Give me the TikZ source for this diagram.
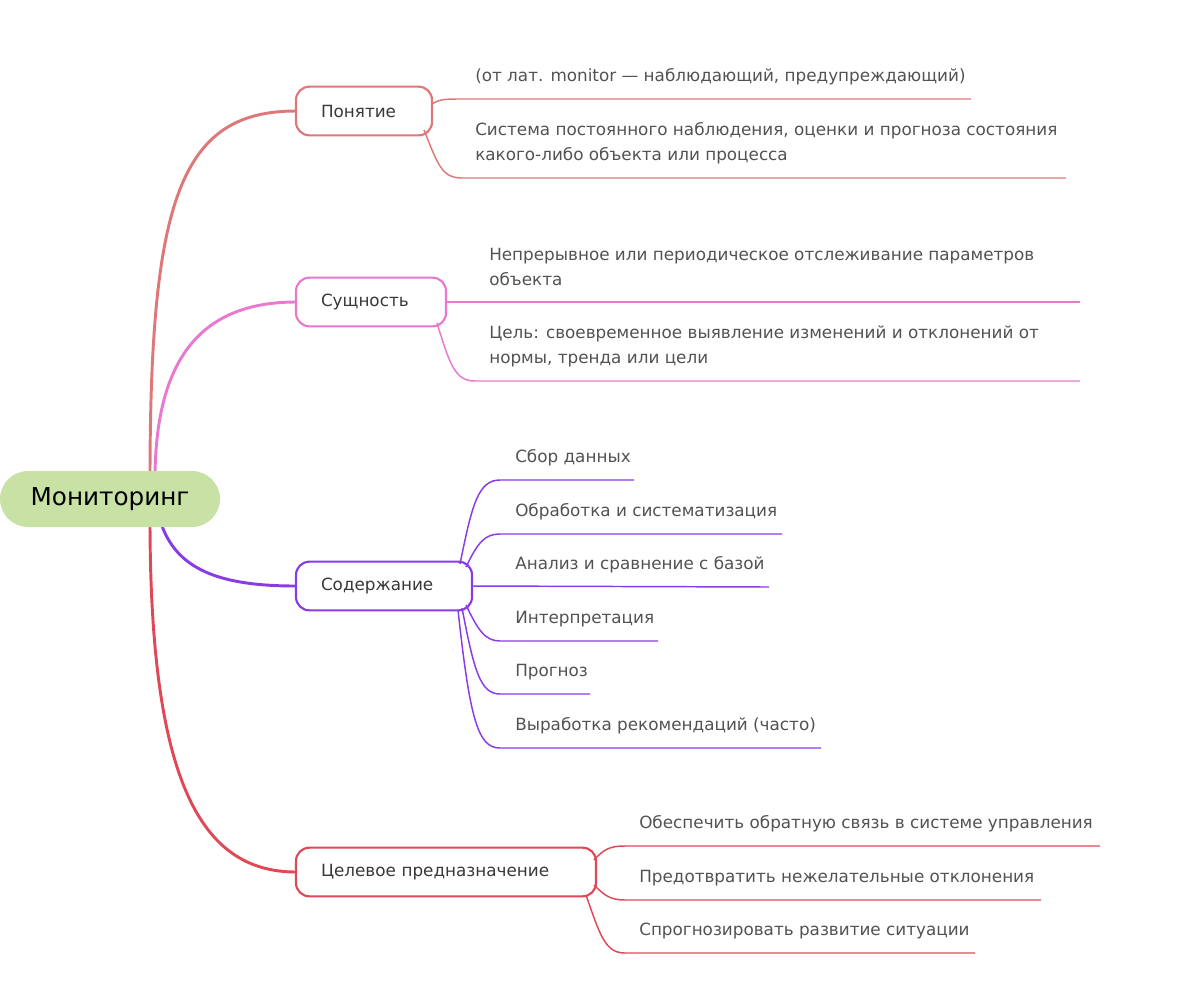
\documentclass[tikz,border=0pt]{standalone}
\usepackage{fontspec}
\setmainfont{DejaVu Sans}
\begin{document}
\begin{tikzpicture}[x=0.75pt,y=-0.75pt,
 leaf/.style={anchor=west,inner sep=0pt,text=black!68,font=\fontsize{12.6pt}{18.75pt}\selectfont,align=left},
 br/.style={draw=#1,line width=1.6pt,rounded corners=10pt,minimum height=36.5pt,inner ysep=0pt,inner xsep=18.75pt,align=left,text=black!78,font=\fontsize{12.6pt}{15pt}\selectfont,fill=white},
 bc/.style={draw=#1,line width=2.2pt},
 lc/.style={draw=#1,line width=1.1pt}]
\definecolor{cA}{RGB}{222,120,120}
\definecolor{cB}{RGB}{232,120,208}
\definecolor{cC}{RGB}{138,59,232}
\definecolor{cD}{RGB}{224,72,88}
\definecolor{root}{RGB}{200,226,166}
\useasboundingbox (0,0) rectangle (1196,997);
% branch curves
\coordinate (r1) at (150,480);
\coordinate (r2) at (155,480);
\coordinate (r3) at (160,520);
\coordinate (r4) at (150,520);
\path[bc=cA] (r1) .. controls (150,200) and (180,111) .. (296,111);
\path[bc=cB] (r2) .. controls (155,360) and (200,302) .. (296,302);
\path[bc=cC] (r3) .. controls (175,570) and (220,586) .. (296,586);
\path[bc=cD] (r4) .. controls (150,780) and (200,872) .. (296,872);
\node[fill=root,rounded corners=21pt,minimum width=165pt,minimum height=42pt,font=\fontsize{18.5pt}{20pt}\selectfont] (root) at (110,499) {Мониторинг};
\node[br=cA,text width=64.5pt] (a) at (364,111) {Понятие};
\node[br=cB,text width=75pt] (b) at (371,302) {Сущность};
\node[br=cC,text width=94.5pt] (c) at (384,586) {Содержание};
\node[br=cD,text width=187.5pt] (d) at (446,872) {Целевое предназначение};
% Понятие leaves
\node[leaf] (a1) at (475,77) {(от лат. monitor — наблюдающий, предупреждающий)};
\node[leaf] (a2) at (475,143) {Система постоянного наблюдения, оценки и прогноза состояния\\какого-либо объекта или процесса};
\coordinate (a1e) at (971,99); \coordinate (a2e) at (1066,178);
\path[lc=cA] (432,104) .. controls (440,99) and (445,99) .. (462,99) -- (a1e);
\path[lc=cA] (424,130) .. controls (438,165) and (442,178) .. (462,178) -- (a2e);
% Сущность leaves
\node[leaf] (b1) at (489,267) {Непрерывное или периодическое отслеживание параметров\\объекта};
\node[leaf] (b2) at (489,346) {Цель: своевременное выявление изменений и отклонений от\\нормы, тренда или цели};
\coordinate (b1e) at (1080,302); \coordinate (b2e) at (1080,381);
\path[lc=cB] (b.east) -- (b1e);
\path[lc=cB] (437,323) .. controls (450,365) and (455,381) .. (475,381) -- (b2e);
% Содержание leaves
\foreach \n/\y/\e/\t in {1/480/634/Сбор данных,2/534/782/Обработка и систематизация,3/587/769/Анализ и сравнение с базой,4/641/658/Интерпретация,5/694/590/Прогноз,6/748/821/Выработка рекомендаций (часто)}{
 \node[leaf] (c\n) at (515,\y-22) {\t};
 \coordinate (c\n e) at (\e,\y);
}
\path[lc=cC] (460,564) .. controls (472,505) and (478,480) .. (500,480) -- (c1e);
\path[lc=cC] (466,567) .. controls (478,542) and (485,534) .. (500,534) -- (c2e);
\path[lc=cC] (c.east) -- (c3e);
\path[lc=cC] (466,605) .. controls (478,630) and (485,641) .. (500,641) -- (c4e);
\path[lc=cC] (462,608) .. controls (474,670) and (480,694) .. (500,694) -- (c5e);
\path[lc=cC] (458,610) .. controls (470,720) and (478,748) .. (500,748) -- (c6e);
% Целевое leaves
\foreach \n/\y/\e/\t in {1/846/1100/Обеспечить обратную связь в системе управления,2/900/1041/Предотвратить нежелательные отклонения,3/953/975/Спрогнозировать развитие ситуации}{
 \node[leaf] (d\n) at (639,\y-22) {\t};
 \coordinate (d\n e) at (\e,\y);
}
\path[lc=cD] (594,860) .. controls (604,849) and (610,846) .. (625,846) -- (d1e);
\path[lc=cD] (594,885) .. controls (604,895) and (610,900) .. (625,900) -- (d2e);
\path[lc=cD] (586,895) .. controls (600,935) and (605,953) .. (625,953) -- (d3e);
\end{tikzpicture}
\end{document}
